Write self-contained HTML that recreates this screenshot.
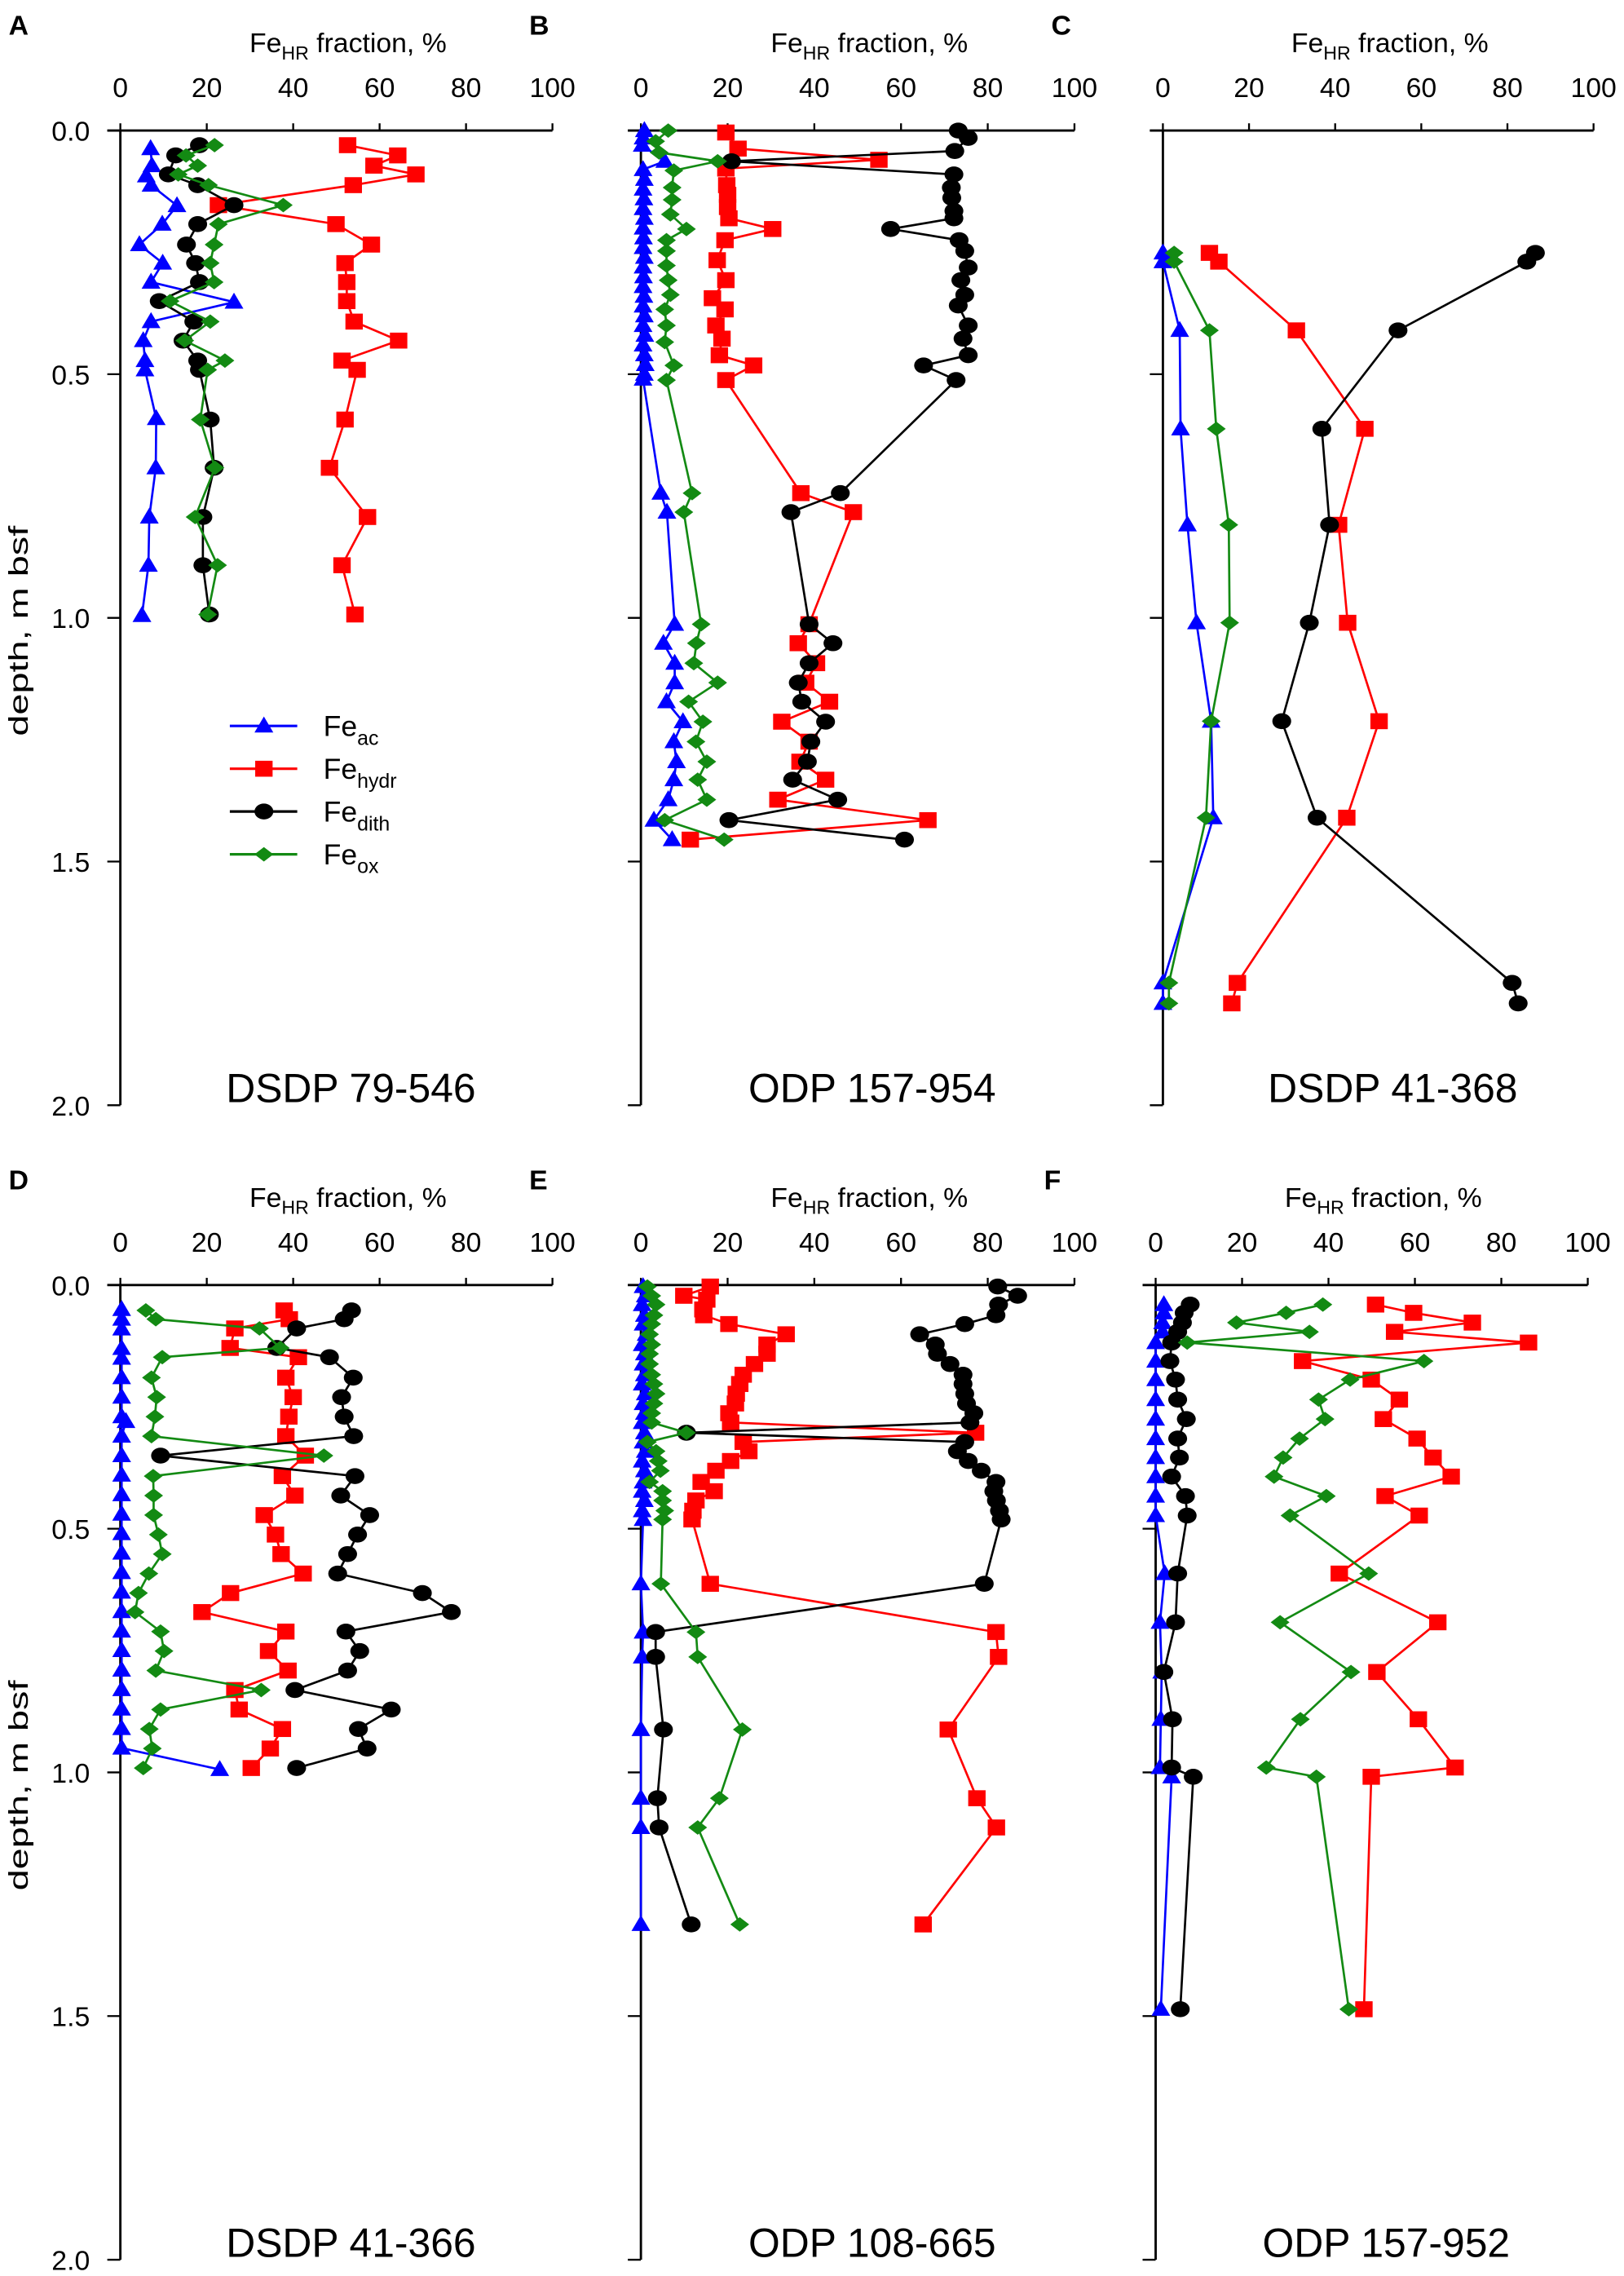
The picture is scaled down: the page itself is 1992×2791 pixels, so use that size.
<!DOCTYPE html>
<html><head><meta charset="utf-8"><style>
html,body{margin:0;padding:0;background:#fff;}
svg{display:block;font-family:"Liberation Sans",sans-serif;}
</style></head><body>
<svg id="fig" width="1992" height="2791" viewBox="0 0 1120 1569.2" xmlns="http://www.w3.org/2000/svg"></svg>
<script>
// ---- Panel A: DSDP 79-546 ----
const depthA_ac=[0.037,0.072,0.093,0.112,0.154,0.192,0.234,0.272,0.311,0.352,0.392,0.431,0.472,0.491,0.591,0.692,0.793,0.892,0.995];
const valA_ac=[7,7.3,6,7.1,13.1,9.7,4.4,9.8,7.1,26.3,7.1,5.3,5.7,5.7,8.3,8.2,6.7,6.5,5];
const depthA_hydr=[0.030,0.051,0.072,0.090,0.112,0.153,0.192,0.234,0.272,0.311,0.350,0.392,0.431,0.472,0.491,0.593,0.692,0.793,0.892,0.993];
const valA_hydr=[52.6,64.2,58.7,68.4,53.9,22.7,49.9,58.1,52,52.4,52.4,54.1,64.4,51.3,54.8,52,48.4,57.2,51.3,54.3];
const depthA_dith=[0.030,0.051,0.090,0.112,0.153,0.192,0.234,0.272,0.311,0.350,0.392,0.431,0.472,0.491,0.593,0.692,0.793,0.892,0.993];
const valA_dith=[18.3,12.8,11.1,17.9,26.3,17.9,15.3,17.4,18.3,9,17,14.5,17.9,18.3,20.8,21.7,19.1,19.1,20.6];
const depthA_ox=[0.030,0.051,0.072,0.090,0.112,0.153,0.192,0.234,0.272,0.311,0.350,0.392,0.431,0.472,0.491,0.593,0.692,0.793,0.892,0.993];
const valA_ox=[21.8,15.2,17.9,13.4,20.4,37.7,22.7,21.7,20.8,21.7,11.5,20.8,14.9,24.2,20.2,18.5,21.9,17.3,22.5,20.2];
// ---- Panel B: ODP 157-954 ----
const depthB_ac=[0,0.015,0.03,0.063,0.08,0.1,0.12,0.14,0.16,0.18,0.2,0.22,0.24,0.26,0.28,0.3,0.32,0.34,0.36,0.38,0.4,0.42,0.44,0.46,0.48,0.5,0.51,0.744,0.783,1.013,1.052,1.093,1.133,1.172,1.213,1.254,1.295,1.332,1.373,1.415,1.455];
const valB_ac=[0.8,0.5,0.3,5.5,0.5,0.8,0.5,0.7,0.5,0.8,0.5,0.6,0.5,0.8,0.5,0.6,0.5,0.7,0.5,0.8,0.5,0.9,0.5,0.8,1,0.8,0.5,4.6,6,7.8,5.2,7.8,7.8,5.9,9.7,7.6,8.2,7.6,6.3,3,7.2];
const depthB_hydr=[0.004,0.037,0.060,0.078,0.112,0.132,0.157,0.180,0.202,0.225,0.266,0.307,0.344,0.367,0.400,0.427,0.461,0.482,0.512,0.744,0.783,1.013,1.052,1.093,1.133,1.172,1.213,1.254,1.295,1.332,1.373,1.415,1.455];
const valB_hydr=[19.6,22.4,54.9,19.6,19.8,20,20,20.3,30.4,19.4,17.6,19.6,16.5,19.4,17.3,18.7,18.1,26,19.6,36.9,49,38.8,36.3,40.5,38,43.5,32.5,38.8,36.7,42.6,31.6,66.2,11.4];
const depthB_dith=[0,0.015,0.042,0.063,0.090,0.117,0.138,0.165,0.180,0.202,0.225,0.247,0.281,0.307,0.337,0.359,0.400,0.427,0.461,0.482,0.512,0.744,0.783,1.013,1.052,1.093,1.133,1.172,1.213,1.254,1.295,1.332,1.373,1.415,1.455];
const valB_dith=[73.2,75.5,72.4,20.9,72.2,71.6,71.7,72.2,72.2,57.6,73.4,74.7,75.5,73.8,74.7,73.2,75.5,74.3,75.5,65.2,72.7,46,34.6,38.8,44.3,38.8,36.3,37.1,42.6,39.2,38.4,35,45.4,20.3,60.8];
const depthB_ox=[0,0.022,0.045,0.063,0.082,0.117,0.142,0.172,0.202,0.225,0.247,0.277,0.307,0.337,0.367,0.400,0.434,0.482,0.512,0.744,0.783,1.013,1.052,1.093,1.133,1.172,1.213,1.254,1.295,1.332,1.373,1.415,1.455];
const valB_ox=[6.3,3.4,4.2,17.7,7.6,7.2,7.2,6.8,10.5,5.9,5.9,5.9,6.3,6.8,5.5,5.9,5.5,7.6,5.9,11.8,9.9,13.9,12.8,12.2,17.7,11,14.3,12.7,15.2,13.1,15.2,5.5,19.2];
// ---- Panel C: DSDP 41-368 ----
const depthC=[0.251,0.269,0.410,0.612,0.809,1.010,1.212,1.410,1.749,1.791];
const valC_ac=[0,0,3.9,4.1,5.7,7.8,11.2,11.7,0,0];
const valC_hydr=[10.8,13,31,46.9,40.8,42.9,50.2,42.7,17.3,16];
const valC_dith=[86.5,84.5,54.6,36.9,38.7,34,27.6,35.8,81.1,82.5];
const valC_ox=[2.6,2.6,10.8,12.4,15.3,15.5,11.2,10,1.4,1.4];
// ---- Panel D: DSDP 41-366 ----
const depthD_ac=[0.05,0.07,0.09,0.13,0.15,0.19,0.23,0.27,0.28,0.31,0.35,0.39,0.43,0.47,0.51,0.55,0.59,0.63,0.67,0.71,0.75,0.79,0.83,0.87,0.91,0.95,0.994];
const valD_ac=[0.3,0.3,0.3,0.3,0.3,0.3,0.3,0.3,1.3,0.3,0.3,0.3,0.3,0.3,0.3,0.3,0.3,0.3,0.3,0.3,0.3,0.3,0.3,0.3,0.3,0.3,23];
const depthD=[0.052,0.070,0.089,0.129,0.148,0.190,0.230,0.270,0.310,0.350,0.392,0.432,0.472,0.512,0.552,0.592,0.632,0.671,0.711,0.751,0.791,0.831,0.871,0.911,0.951,0.991];
const valD_hydr=[37.9,39.1,26.5,25.4,41.2,38.3,40,39,38.3,42.8,37.5,40.4,33.3,35.9,37.2,42.3,25.5,18.9,38.3,34.3,38.8,26.5,27.5,37.5,34.7,30.3];
const valD_dith=[53.5,51.8,40.8,36.2,48.4,53.9,51.2,51.8,54,9.3,54.3,51,57.7,54.9,52.6,50.3,69.9,76.6,52.2,55.4,52.6,40.4,62.7,55.1,57.1,40.8];
const valD_ox=[5.9,8.2,32.2,37,9.7,7.2,8.4,8,7.2,47.1,7.6,7.7,7.7,8.8,9.7,6.6,4.2,3.4,9.3,10.1,8.2,32.6,9.3,6.7,7.4,5.3];
// ---- Panel E: ODP 108-665 ----
const depthE=[0.003,0.022,0.040,0.062,0.080,0.101,0.122,0.141,0.162,0.184,0.203,0.223,0.243,0.263,0.282,0.303,0.322,0.341,0.361,0.381,0.404,0.423,0.442,0.463,0.481,0.613,0.712,0.763,0.912,1.053,1.113,1.312];
const valE_ac=[0.5,1,0.3,0.8,0.5,1.2,0.3,0.8,0.5,0.8,0.3,1,0.5,0.8,0.3,0.8,0.5,1,0.3,0.8,0.5,0.3,0.8,0.3,0.5,0,0.5,0.3,0,0,0,0];
const depthE_hydr=[0.003,0.022,0.030,0.050,0.062,0.080,0.101,0.122,0.141,0.162,0.184,0.203,0.223,0.243,0.263,0.282,0.303,0.322,0.341,0.361,0.381,0.404,0.423,0.442,0.463,0.481,0.613,0.712,0.763,0.912,1.053,1.113,1.312];
const valE_hydr=[16,9.9,15.2,14.3,14.5,20.3,33.5,29.1,29.1,26.2,23.6,22.8,22,21.8,20.3,20.7,77.2,23.6,24.9,20.7,17.3,13.9,16.9,12.7,12,11.8,16,81.9,82.5,70.9,77.5,82,65.1];
const valE_dith=[82.3,86.9,82.5,81.9,74.7,64.3,67.9,68.4,71.3,74.3,74.3,74.7,75.1,76.8,75.9,10.5,74.7,73,75.5,78.5,81.9,81.4,82,82.7,83.1,79.2,3.4,3.4,5.2,3.8,4.2,11.6];
const valE_ox=[1.5,2.5,3.5,3,2.5,2,2.5,2,2,2.5,3,3.5,3,2.5,2.5,10.5,1.5,3.5,4,4.5,2,5,5,5.5,5,4.6,12.7,13.1,23.4,18.1,13.1,22.8];
// ---- Panel F: ODP 157-952 ----
const depthF=[0.040,0.057,0.077,0.096,0.118,0.156,0.194,0.235,0.275,0.315,0.354,0.393,0.433,0.473,0.592,0.692,0.794,0.891,0.990,1.009,1.486];
const valF_ac=[1.9,1.9,1.6,1.6,0,0,0,0,0,0,0,0,0,0,2.1,1,1.4,1.2,1,3.7,1.2];
const valF_hydr=[50.9,59.7,73.3,55.3,86.3,34,49.9,56.4,52.7,60.5,64.2,68.4,53.1,61,42.5,65.3,51.2,60.8,69.3,49.9,48.2];
const valF_dith=[8,6.6,6.2,5.1,3.7,3.3,4.6,5.1,7.1,5.1,5.5,3.7,6.9,7.3,5.1,4.6,1.9,3.9,3.7,8.7,5.7];
const valF_ox=[38.7,30.2,18.7,35.6,7.3,62.1,45,37.7,39.2,33.3,29.5,27.4,39.5,31.1,49.3,28.8,45.2,33.5,25.6,37.2,44.7];

const xTicks=[0,20,40,60,80,100];
const yTicks=["0.0","0.5","1.0","1.5","2.0"];
const panelLetters=["A","B","C","D","E","F"];
const panelTitles=["DSDP 79-546","ODP 157-954","DSDP 41-368","DSDP 41-366","ODP 108-665","ODP 157-952"];

const NS="http://www.w3.org/2000/svg";
const svg=document.getElementById('fig');
function mk(tag,attrs,parent){const e=document.createElementNS(NS,tag);for(const k in attrs)e.setAttribute(k,attrs[k]);(parent||svg).appendChild(e);return e;}
const COL={ac:"#0000ff",hydr:"#ff0000",dith:"#000000",ox:"#138a13"};
function marker(type,x,y,g){
  let e;
  if(type==='ac'){e=mk('polygon',{points:`${x},${y-6.5} ${x+6.5},${y+4.5} ${x-6.5},${y+4.5}`,fill:COL.ac},g);}
  else if(type==='hydr'){e=mk('rect',{x:x-6,y:y-5.5,width:12,height:11,fill:COL.hydr},g);}
  else if(type==='dith'){e=mk('ellipse',{cx:x,cy:y,rx:6.5,ry:5.5,fill:COL.dith},g);}
  else {e=mk('polygon',{points:`${x},${y-5} ${x+6.5},${y} ${x},${y+5} ${x-6.5},${y}`,fill:COL.ox},g);}
  return e;
}
const panels=[
 {x0:83,x1:381,y0:90,ylab:true,series:[['ac',depthA_ac,valA_ac],['hydr',depthA_hydr,valA_hydr],['dith',depthA_dith,valA_dith],['ox',depthA_ox,valA_ox]]},
 {x0:442,x1:741,y0:90,ylab:false,series:[['ac',depthB_ac,valB_ac],['hydr',depthB_hydr,valB_hydr],['dith',depthB_dith,valB_dith],['ox',depthB_ox,valB_ox]]},
 {x0:802,x1:1099,y0:90,ylab:false,series:[['ac',depthC,valC_ac],['hydr',depthC,valC_hydr],['dith',depthC,valC_dith],['ox',depthC,valC_ox]]},
 {x0:83,x1:381,y0:886,ylab:true,series:[['ac',depthD_ac,valD_ac],['hydr',depthD,valD_hydr],['dith',depthD,valD_dith],['ox',depthD,valD_ox]]},
 {x0:442,x1:741,y0:886,ylab:false,series:[['ac',depthE,valE_ac],['hydr',depthE_hydr,valE_hydr],['dith',depthE,valE_dith],['ox',depthE,valE_ox]]},
 {x0:797,x1:1095,y0:886,ylab:false,series:[['ac',depthF,valF_ac],['hydr',depthF,valF_hydr],['dith',depthF,valF_dith],['ox',depthF,valF_ox]]}
];
panels.forEach((p,i)=>{
  const g=mk('g',{});
  
  
  const sx=v=>p.x0+(p.x1-p.x0)*v/100;
  const sy=d=>p.y0+d*336;
  // letter
  const L=mk('text',{x:p.x0-77,y:p.y0-66,'font-size':19,'font-weight':'bold'},g);L.textContent=panelLetters[i];
  
  
  // x axis title
  const t=mk('text',{x:(p.x0+p.x1)/2+8,y:p.y0-54,'font-size':19,'text-anchor':'middle'},g);
  
  
  t.innerHTML='Fe<tspan font-size="13" dy="5">HR</tspan><tspan dy="-5"> fraction, %</tspan>';
  // x axis
  mk('line',{x1:p.x0-9,y1:p.y0,x2:p.x1,y2:p.y0,stroke:'#000','stroke-width':1.6},g);
  xTicks.forEach(v=>{
    mk('line',{x1:sx(v),y1:p.y0,x2:sx(v),y2:p.y0-5,stroke:'#000','stroke-width':1.3},g);
    const tl=mk('text',{x:sx(v),y:p.y0-23,'font-size':19,'text-anchor':'middle'},g);tl.textContent=v;
    
    
  });
  // y axis
  mk('line',{x1:p.x0,y1:p.y0,x2:p.x0,y2:sy(2),stroke:'#000','stroke-width':1.6},g);
  yTicks.forEach((lab,k)=>{
    const y=sy(k*0.5);
    mk('line',{x1:p.x0-9,y1:y,x2:p.x0,y2:y,stroke:'#000','stroke-width':1.3},g);
    if(p.ylab){const tl=mk('text',{x:p.x0-21,y:y+7,'font-size':19,'text-anchor':'end'},g);tl.textContent=lab;
      
      }
  });
  if(p.ylab){
    const cy=p.y0+345;
    const yl=mk('text',{x:0,y:0,'font-size':19,'text-anchor':'middle',transform:`translate(19,${cy}) rotate(-90)`,textLength:145,lengthAdjust:'spacingAndGlyphs'},g);
    yl.textContent='depth, m bsf';
    
    
  }
  // site title
  const st=mk('text',{x:(p.x0+p.x1)/2+10,y:p.y0+670,'font-size':28,'text-anchor':'middle'},g);st.textContent=panelTitles[i];
  
  
  // series
  p.series.forEach(([type,ds,vs])=>{
    const sg=mk('g',{},g);
    
    
    const pts=ds.map((d,k)=>sx(vs[k])+','+sy(d)).join(' ');
    mk('polyline',{points:pts,fill:'none',stroke:COL[type],'stroke-width':1.5},sg);
    ds.forEach((d,k)=>{const m=marker(type,sx(vs[k]),sy(d),sg);
      
      });
  });
});
// legend
const legTypes=['ac','hydr','dith','ox'];
const legSubs=['ac','hydr','dith','ox'];
const lg=mk('g',{});


legTypes.forEach((t,k)=>{
  const y=500.5+k*29.5;
  const e=mk('g',{},lg);
  
  
  mk('line',{x1:158.5,y1:y,x2:205,y2:y,stroke:COL[t],'stroke-width':1.8},e);
  marker(t,182,y,e);
  const tx=mk('text',{x:223,y:y+7,'font-size':20},e);
  tx.innerHTML='Fe<tspan font-size="14" dy="6">'+legSubs[k]+'</tspan>';
});
</script>
</body></html>
